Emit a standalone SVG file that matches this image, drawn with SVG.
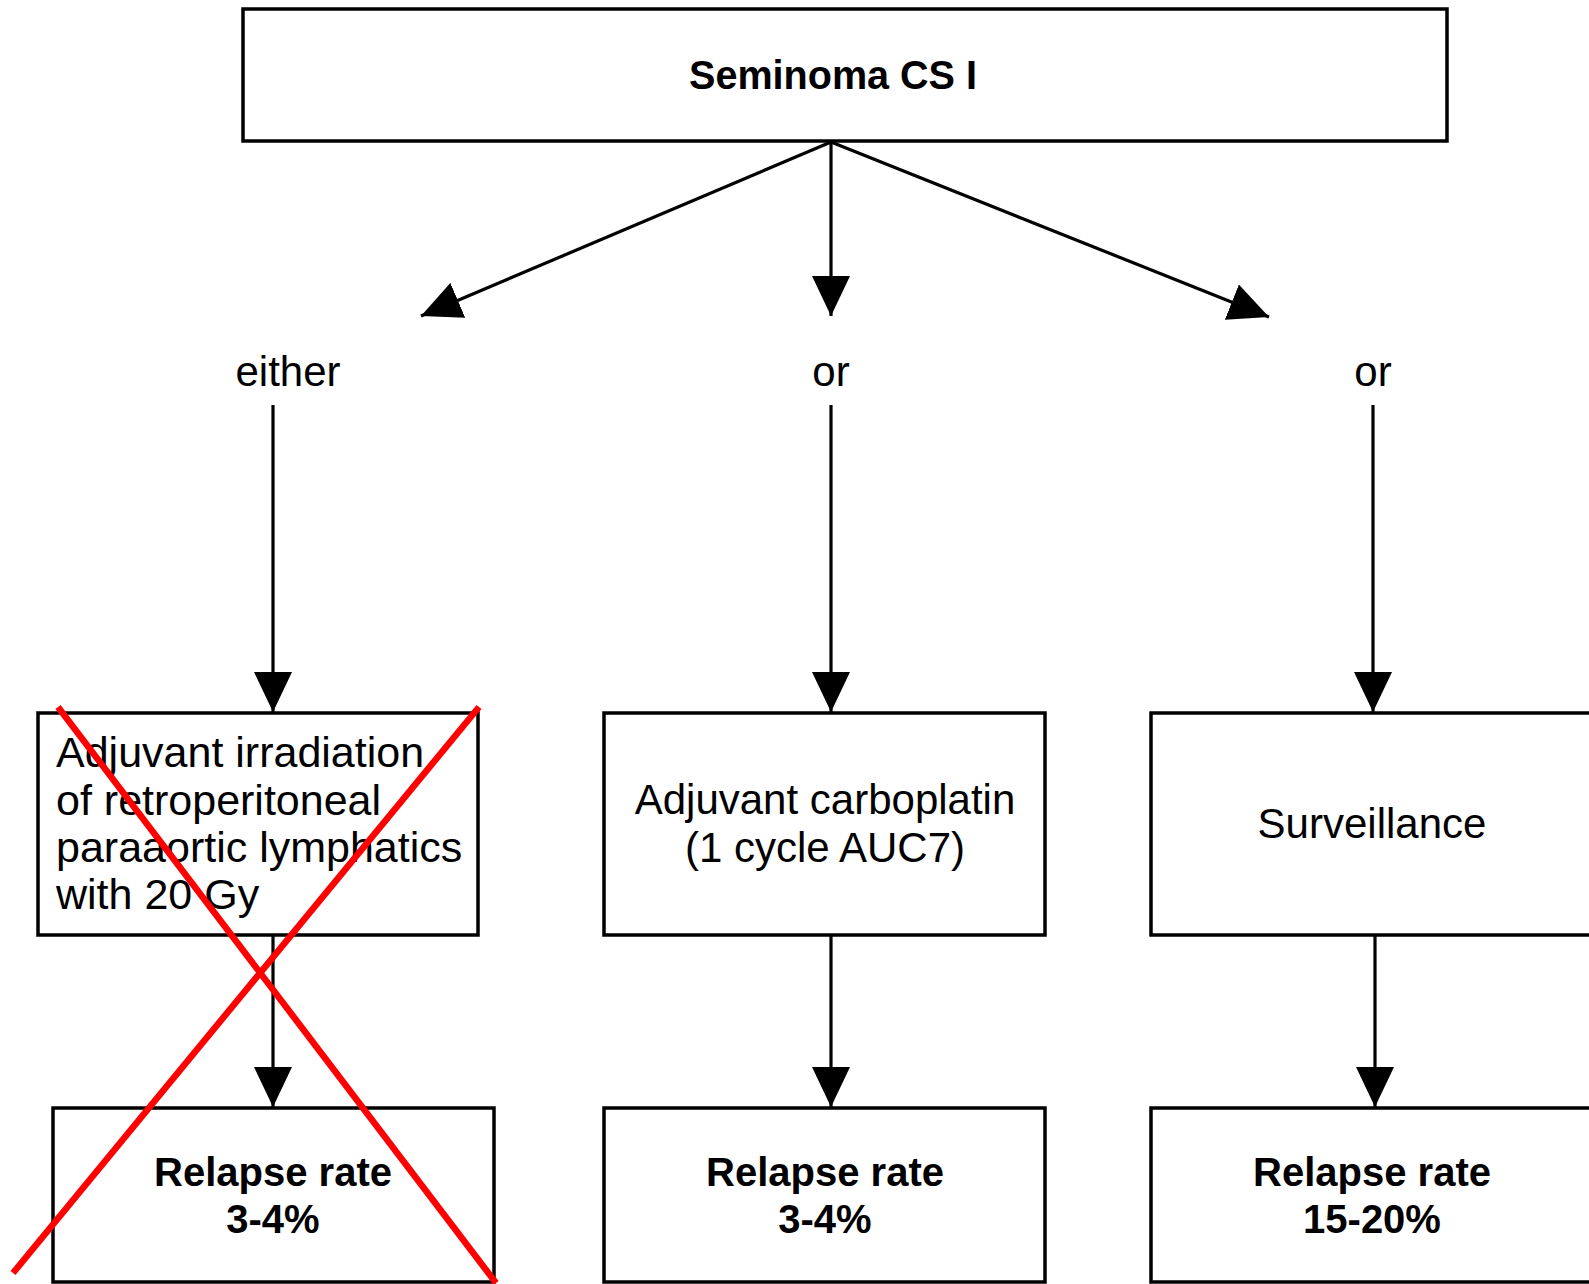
<svg xmlns="http://www.w3.org/2000/svg" width="1589" height="1284" viewBox="0 0 1589 1284">
<style>
.box{fill:#fff;stroke:#000;stroke-width:3.5}
.con{stroke:#000;stroke-width:3.2;fill:none}
.t{font-family:"Liberation Sans",Arial,sans-serif;fill:#000}
.b{font-weight:bold;font-size:40px;text-anchor:middle}
.r{font-size:42px;text-anchor:middle}
.lab{font-size:42px;text-anchor:middle}
.l{font-size:43px}
.x{stroke:#ff0000;stroke-width:6.5;fill:none}
</style>
<defs>
<marker id="ah" viewBox="0 0 40 38" refX="40" refY="19" markerWidth="40" markerHeight="38" markerUnits="userSpaceOnUse" orient="auto">
<path d="M0,0 L40,19 L0,38 z" fill="#000"/>
</marker>
</defs>
<rect width="1589" height="1284" fill="#fff"/>
<g id="n-top">
<rect class="box" x="243" y="9" width="1204" height="132"/>
<text class="t b" x="833" y="89" font-size="38" textLength="288" lengthAdjust="spacingAndGlyphs">Seminoma CS I</text>
</g>
<g id="labels">
<text class="t lab" x="288" y="386">either</text>
<text class="t lab" x="831" y="386">or</text>
<text class="t lab" x="1373" y="386">or</text>
</g>
<g id="connectors">
<line class="con" x1="831" y1="142" x2="421" y2="316" marker-end="url(#ah)"/>
<line class="con" x1="831" y1="142" x2="831" y2="316" marker-end="url(#ah)"/>
<line class="con" x1="831" y1="142" x2="1269" y2="317" marker-end="url(#ah)"/>
<line class="con" x1="273" y1="405" x2="273" y2="712" marker-end="url(#ah)"/>
<line class="con" x1="831" y1="405" x2="831" y2="712" marker-end="url(#ah)"/>
<line class="con" x1="1373" y1="405" x2="1373" y2="712" marker-end="url(#ah)"/>
<line class="con" x1="273" y1="935" x2="273" y2="1107" marker-end="url(#ah)"/>
<line class="con" x1="831" y1="935" x2="831" y2="1107" marker-end="url(#ah)"/>
<line class="con" x1="1375" y1="935" x2="1375" y2="1107" marker-end="url(#ah)"/>
</g>
<g id="n-irradiation">
<rect class="box" x="38" y="713" width="440" height="222"/>
<text class="t l" x="56" y="767">Adjuvant irradiation</text>
<text class="t l" x="56" y="815">of retroperitoneal</text>
<text class="t l" x="56" y="862">paraaortic lymphatics</text>
<text class="t l" x="56" y="909">with 20 Gy</text>
</g>
<g id="n-carboplatin">
<rect class="box" x="604" y="713" width="441" height="222"/>
<text class="t r" x="825" y="814">Adjuvant carboplatin</text>
<text class="t r" x="825" y="862">(1 cycle AUC7)</text>
</g>
<g id="n-surveillance">
<rect class="box" x="1151" y="713" width="445" height="222"/>
<text class="t r" x="1372" y="838">Surveillance</text>
</g>
<g id="n-relapse1">
<rect class="box" x="53" y="1108" width="441" height="174"/>
<text class="t b" x="273" y="1186">Relapse rate</text>
<text class="t b" x="273" y="1233">3-4%</text>
</g>
<g id="n-relapse2">
<rect class="box" x="604" y="1108" width="441" height="174"/>
<text class="t b" x="825" y="1186">Relapse rate</text>
<text class="t b" x="825" y="1233">3-4%</text>
</g>
<g id="n-relapse3">
<rect class="box" x="1151" y="1108" width="445" height="174"/>
<text class="t b" x="1372" y="1186">Relapse rate</text>
<text class="t b" x="1372" y="1233">15-20%</text>
</g>
<g id="cross">
<line class="x" x1="58" y1="707" x2="496" y2="1283"/>
<line class="x" x1="479" y1="707" x2="13" y2="1273"/>
</g>
</svg>
